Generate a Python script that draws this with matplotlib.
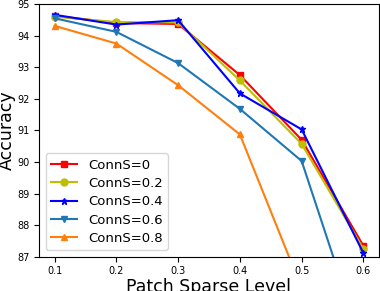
import matplotlib
matplotlib.use('Agg')
import matplotlib.pyplot as plt

sparse_levels = [0.1, 0.2, 0.3, 0.4, 0.5, 0.6]
acc_conn0 = [94.63, 94.40, 94.37, 92.75, 90.70, 87.34]
acc_conn02 = [94.60, 94.43, 94.42, 92.58, 90.57, 87.24]
acc_conn04 = [94.66, 94.35, 94.49, 92.17, 91.03, 87.11]
acc_conn06 = [94.55, 94.12, 93.13, 91.68, 90.03, 84.10]
acc_conn08 = [94.31, 93.75, 92.43, 90.87, 86.00, 82.00]

fig = plt.figure(figsize=(3.8, 2.91), dpi=100)
ax = fig.add_axes([0.103, 0.118, 0.894, 0.868])

ax.plot(sparse_levels, acc_conn0, 'rs-', markersize=5, linewidth=1.5, label='ConnS=0')
ax.plot(sparse_levels, acc_conn02, 'yo-', markersize=5, linewidth=1.5, label='ConnS=0.2')
ax.plot(sparse_levels, acc_conn04, 'b*-', markersize=5, linewidth=1.5, label='ConnS=0.4')
ax.plot(sparse_levels, acc_conn06, 'v-', color='tab:blue', markersize=5, linewidth=1.5, label='ConnS=0.6')
ax.plot(sparse_levels, acc_conn08, '^-', color='tab:orange', markersize=5, linewidth=1.5, label='ConnS=0.8')

ax.set_ylim(87, 95)
ax.tick_params(labelsize=7)
ax.set_xlabel('Patch Sparse Level', fontsize=12.5, labelpad=1)
ax.set_ylabel('Accuracy', fontsize=12.5, labelpad=1)
ax.legend(loc='lower left', fontsize=9.5, labelspacing=0.4)

plt.savefig('out.png', dpi=100)
